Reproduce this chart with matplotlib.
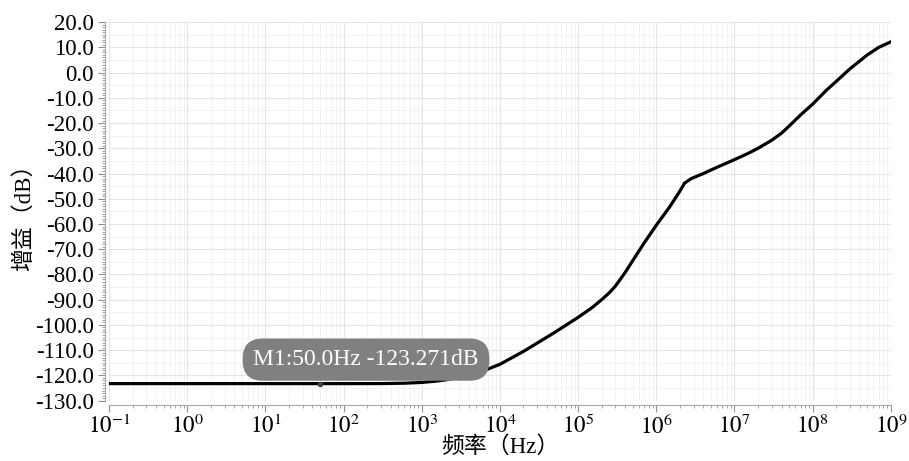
import matplotlib
matplotlib.use("Agg")
import matplotlib.pyplot as plt
from matplotlib.ticker import FuncFormatter, MultipleLocator, LogLocator, NullFormatter
import numpy as np

plt.rcParams["font.family"] = ["Liberation Serif", "Noto Sans CJK SC"]
plt.rcParams["mathtext.fontset"] = "stix"

# gain curve (Hz, dB)
freq = [0.1, 1, 10, 100, 300, 600, 1e3, 1.5e3, 2e3, 3e3, 5e3, 7e3,
        1e4, 2e4, 5e4, 1e5, 1.5e5, 2e5, 2.5e5, 3e5, 4e5, 5e5, 7e5, 1e6,
        1.5e6, 2e6, 2.3e6, 2.8e6, 4e6, 6e6, 1e7, 1.5e7, 2e7, 3e7, 4e7,
        5e7, 7e7, 1e8, 1.5e8, 2e8, 3e8, 5e8, 7e8, 1e9]
gain = [-123.27, -123.27, -123.27, -123.27, -123.25, -123.1, -122.8, -122.3,
        -121.8, -120.8, -118.9, -117.5, -115.6, -110.5, -103.0, -97.0,
        -93.2, -90.0, -87.3, -84.6, -79.2, -74.5, -67.5, -60.5, -53.0,
        -47.0, -43.8, -42.0, -40.0, -37.5, -34.5, -32.0, -30.0, -26.8,
        -24.0, -21.2, -16.8, -12.5, -7.0, -3.5, 1.5, 7.0, 10.0, 12.2]

marker_f = 50.0
marker_db = -123.271
marker_text = "M1:50.0Hz -123.271dB"

fs = 16.5

fig = plt.figure(figsize=(9.09, 4.61), dpi=100)
ax = fig.add_axes([0.12, 0.131, 0.860, 0.821])

ax.plot(freq, gain, color="black", lw=2.3, solid_capstyle="round", solid_joinstyle="round")
ax.plot([marker_f], [marker_db], "o", ms=3, color="#444444", zorder=4)
ax.annotate(marker_text, xy=(marker_f, marker_db), xytext=(46, 24),
            textcoords="offset pixels", ha="center", va="center",
            color="white", fontsize=17, family="Liberation Serif",
            bbox=dict(boxstyle="round,pad=0.45,rounding_size=0.85",
                      fc="#808080", ec="none"), zorder=5)

ax.set_xscale("log")
ax.set_xlim(0.1, 1e9)
ax.set_ylim(-130, 20)

ax.xaxis.set_major_locator(LogLocator(base=10, numticks=20))
ax.xaxis.set_major_formatter(FuncFormatter(lambda v, p: f"$10^{{{int(round(np.log10(v)))}}}$"))
ax.xaxis.set_minor_locator(LogLocator(base=10, subs=np.arange(2, 10), numticks=200))
ax.xaxis.set_minor_formatter(NullFormatter())
ax.yaxis.set_major_locator(MultipleLocator(10))
ax.yaxis.set_minor_locator(MultipleLocator(1))
ax.yaxis.set_major_formatter(FuncFormatter(lambda v, p: f"{v:.1f}"))

ax.grid(which="major", color="#e4e4e4", lw=0.8)
ax.grid(which="minor", axis="x", color="#f0f0f0", lw=0.6)
for yv in np.arange(-125, 20, 10):
    ax.axhline(yv, color="#f0f0f0", lw=0.6, zorder=0)
ax.set_axisbelow(True)

for s in ["top", "right"]:
    ax.spines[s].set_visible(False)
for s in ["left", "bottom"]:
    ax.spines[s].set_color("#a8a8a8")
    ax.spines[s].set_position(("outward", 3))
ax.tick_params(which="both", colors="#909090", labelcolor="black", labelsize=fs)
ax.tick_params(which="major", length=5)
ax.tick_params(which="minor", length=2.5)
ax.tick_params(axis="y", pad=3)
ax.tick_params(axis="x", pad=2)

ax.set_xlabel("频率（Hz）", fontsize=fs, labelpad=-2)
ax.set_ylabel("增益（dB）", fontsize=fs, labelpad=0)

fig.savefig("out.png", dpi=100)
